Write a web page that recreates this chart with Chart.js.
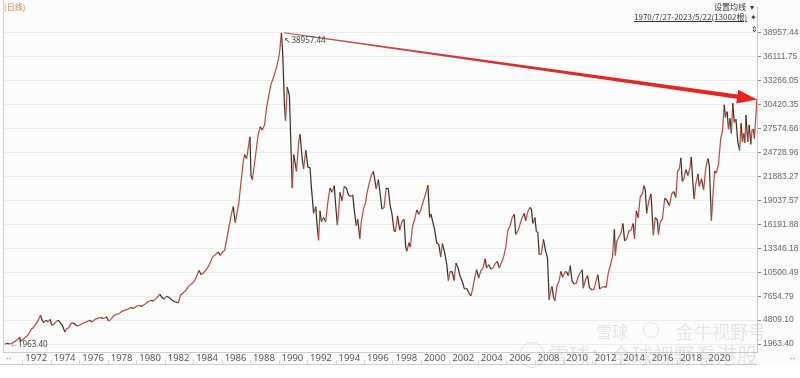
<!DOCTYPE html>
<html>
<head>
<meta charset="utf-8">
<script src="https://cdn.jsdelivr.net/npm/chart.js@4.4.0/dist/chart.umd.min.js"></script>
<style>
  html,body{margin:0;padding:0;background:#fcfcfc;}
  #wrap{position:relative;width:800px;height:378px;overflow:hidden;font-family:"Noto Sans","Noto Sans CJK SC",sans-serif;}
  canvas{position:absolute;left:0;top:0;}
  .ov{position:absolute;white-space:nowrap;}
  .wm{position:absolute;white-space:nowrap;color:rgba(150,150,150,0.22);font-family:"Noto Sans CJK SC",sans-serif;}
</style>
</head>
<body>
<div id="wrap">
  <canvas id="c" width="800" height="378"></canvas>
  <div class="ov" style="left:4px;top:1px;font-size:8px;color:#e8833a;font-family:'Noto Sans CJK SC';">(日线)</div>
  <div class="ov" style="left:714px;top:1px;font-size:8px;color:#333;font-family:'Noto Sans CJK SC';">设置均线</div>
  <div class="ov" style="left:750px;top:1px;font-size:8px;color:#333;">▾</div>
  <div class="ov" style="left:634px;top:11px;font-size:8px;color:#333;text-decoration:underline;font-family:'Noto Sans CJK SC';">1970/7/27-2023/5/22(13002根)</div>
  <div class="ov" style="left:750px;top:11px;font-size:8px;color:#333;">✦</div>
  <div class="ov" style="left:751px;top:23px;font-size:8px;color:#333;">⇕</div>
  <div class="ov" style="left:6px;top:352px;font-size:9px;color:#777;">··</div>
  <div class="ov" style="left:790px;top:352px;font-size:9px;color:#777;">··</div>
  <div style="position:absolute;left:519px;top:342px;width:24px;height:24px;border:1.5px solid rgba(150,150,150,0.28);border-radius:50%;"></div>
  <div class="wm" style="left:548px;top:339px;font-size:21px;">雪球：全球视野看港股</div>
  <div style="position:absolute;left:643px;top:322px;width:14px;height:14px;border:1.5px solid rgba(150,150,150,0.25);border-radius:50%;"></div>
  <div class="wm" style="left:596px;top:319px;font-size:16px;">雪球</div>
  <div class="wm" style="left:676px;top:318px;font-size:18px;">金牛视野号</div>
</div>
<script>
// ---- data (decimal year, index level) ----
const dates = [
1970.57,1970.70,1970.85,1971.00,1971.15,1971.30,1971.45,1971.60,1971.68,1971.80,1971.95,
1972.10,1972.25,1972.40,1972.55,1972.70,1972.85,1973.00,1973.08,1973.15,1973.30,1973.45,1973.60,1973.75,1973.85,
1974.00,1974.15,1974.30,1974.45,1974.60,1974.78,1974.90,1975.05,1975.20,1975.35,1975.50,1975.65,1975.80,1975.95,
1976.10,1976.30,1976.50,1976.70,1976.90,1977.10,1977.30,1977.50,1977.70,1977.85,1978.00,1978.20,1978.40,1978.60,1978.80,
1979.00,1979.20,1979.40,1979.60,1979.80,1980.00,1980.20,1980.40,1980.60,1980.80,1981.00,1981.20,1981.45,1981.60,1981.75,1981.90,
1982.10,1982.30,1982.50,1982.75,1982.90,1983.05,1983.25,1983.45,1983.65,1983.85,1984.00,1984.20,1984.35,1984.55,1984.75,1984.95,
1985.15,1985.35,1985.55,1985.70,1985.85,1986.00,1986.15,1986.30,1986.45,1986.60,1986.75,1986.90,1987.00,1987.15,1987.30,1987.40,
1987.55,1987.70,1987.78,1987.85,1987.95,1988.05,1988.20,1988.35,1988.50,1988.65,1988.80,1988.95,1989.10,1989.25,1989.40,1989.55,
1989.70,1989.85,1989.99,1990.08,1990.20,1990.28,1990.40,1990.55,1990.65,1990.75,1990.85,1990.95,1991.05,1991.20,1991.30,1991.45,
1991.55,1991.70,1991.85,1992.00,1992.10,1992.25,1992.40,1992.50,1992.60,1992.70,1992.80,1992.95,1993.10,1993.25,1993.40,1993.55,
1993.70,1993.80,1993.92,1994.00,1994.10,1994.25,1994.40,1994.55,1994.70,1994.85,1995.00,1995.10,1995.25,1995.35,1995.50,1995.60,
1995.75,1995.90,1996.00,1996.15,1996.30,1996.45,1996.55,1996.65,1996.80,1996.95,1997.05,1997.20,1997.35,1997.50,1997.62,1997.75,
1997.90,1998.00,1998.15,1998.30,1998.45,1998.60,1998.72,1998.80,1998.95,1999.05,1999.20,1999.35,1999.50,1999.65,1999.80,1999.95,
2000.10,2000.28,2000.40,2000.50,2000.62,2000.75,2000.90,2001.05,2001.18,2001.30,2001.45,2001.60,2001.72,2001.85,2002.00,2002.12,
2002.25,2002.40,2002.55,2002.70,2002.85,2003.00,2003.15,2003.30,2003.42,2003.55,2003.70,2003.85,2004.00,2004.15,2004.30,2004.40,
2004.55,2004.70,2004.85,2005.00,2005.15,2005.30,2005.45,2005.60,2005.75,2005.90,2006.05,2006.20,2006.35,2006.45,2006.60,2006.75,
2006.90,2007.05,2007.15,2007.30,2007.45,2007.55,2007.65,2007.80,2007.90,2008.00,2008.10,2008.25,2008.40,2008.55,2008.68,2008.80,
2008.92,2009.00,2009.10,2009.20,2009.35,2009.50,2009.62,2009.75,2009.90,2010.00,2010.15,2010.28,2010.40,2010.55,2010.70,2010.85,
2011.00,2011.12,2011.20,2011.35,2011.50,2011.62,2011.80,2011.95,2012.10,2012.22,2012.35,2012.50,2012.65,2012.80,2012.95,2013.10,
2013.25,2013.38,2013.45,2013.55,2013.70,2013.85,2013.98,2014.10,2014.25,2014.40,2014.55,2014.70,2014.80,2014.92,2015.05,2015.20,
2015.35,2015.45,2015.55,2015.65,2015.80,2015.95,2016.05,2016.12,2016.25,2016.40,2016.48,2016.60,2016.75,2016.92,2017.05,2017.25,
2017.40,2017.55,2017.70,2017.82,2017.95,2018.05,2018.15,2018.25,2018.40,2018.55,2018.70,2018.78,2018.88,2018.98,2019.10,2019.25,
2019.35,2019.50,2019.65,2019.80,2019.95,2020.05,2020.20,2020.30,2020.42,2020.55,2020.70,2020.85,2020.98,2021.10,2021.18,2021.30,
2021.40,2021.50,2021.60,2021.70,2021.80,2021.92,2022.05,2022.18,2022.28,2022.38,2022.48,2022.55,2022.62,2022.75,2022.85,2022.97,
2023.05,2023.15,2023.22,2023.30,2023.39
];
const closes = [
1963.40,2050,1990,2020,2150,2300,2500,2740,2300,2450,2700,
2900,3200,3700,3900,4300,4600,5200,5359,4900,4500,4800,4600,4900,4200,
4300,4600,4800,4500,4200,3400,3800,3900,4400,4500,4300,4100,4200,4350,
4500,4600,4800,4600,4900,5050,5100,5000,5200,4700,4900,5300,5500,5600,5850,
6000,6100,6300,6200,6450,6550,6450,6700,7000,7150,7100,7400,7900,7500,7300,7650,
7500,7200,7000,6850,7800,8000,8300,8800,9100,9350,9900,10700,10200,10500,10900,11500,
12300,12600,12900,12500,12900,13100,14500,15800,17200,18300,16400,17800,18800,21200,23500,24500,
24000,25800,26600,22000,21500,22800,24800,26800,27800,27400,28000,30100,31500,32800,33500,34300,
35200,36500,38957.44,36500,30500,28500,32500,31500,26000,20500,24500,23500,22500,26000,26900,24000,
22800,25000,23000,22900,20500,17500,18300,16000,14300,17800,16500,17000,16500,18800,20500,20000,
20800,18500,16100,17500,20000,19000,20700,20500,19700,19500,19700,18000,16000,16800,14500,16500,
18000,18800,19900,21000,22000,22500,21500,20400,21500,19500,18000,18200,20500,20400,18500,17500,
15500,15300,17200,15500,16500,16800,13500,13000,14000,13500,16000,16800,17900,17400,18000,18900,
19700,20833,17000,17400,16500,15600,14000,13800,12300,13900,12900,11500,9500,10600,10500,9500,
11600,11000,10000,9400,8500,8600,8100,7700,8500,9700,10800,9800,10700,11000,12100,11000,
11400,10900,11000,11500,11800,11000,11700,12300,13500,15500,16000,17000,17400,15000,15400,16200,
17000,17500,16600,17700,18200,18000,16300,17000,15300,15300,12600,12700,14400,13000,12200,7200,
8400,8800,7600,7100,8900,9500,10600,9900,10500,10600,10100,11300,9500,9100,9200,10000,
10500,10800,8600,9600,10100,8700,8400,8500,9500,10200,8500,8700,8800,8700,10400,11300,
12400,15600,12500,14200,14700,15200,16300,14200,14500,15400,15500,16300,14500,17800,17000,19500,
19800,20800,20300,17500,19000,19800,17000,14900,17000,16700,15000,16500,16800,19300,19100,18400,
19800,20100,19400,22500,22800,24100,21300,21500,22700,22000,23000,24200,21500,19200,21000,22200,
20700,21600,20300,22900,24000,23200,16600,19500,22500,22300,23400,26400,27400,30400,28900,29600,
27500,28800,27000,30600,28300,28700,26000,25000,28200,26000,27000,25900,29200,26000,28000,25700,
27400,27500,26400,28600,31086
];
const xTickYears = [1972,1974,1976,1978,1980,1982,1984,1986,1988,1990,1992,1994,1996,1998,2000,2002,2004,2006,2008,2010,2012,2014,2016,2018,2020];
const yTickValues = [1963.40,4809.10,7654.79,10500.49,13346.18,16191.88,19037.57,21883.27,24728.96,27574.66,30420.35,33266.05,36111.75,38957.44];
// annotation arrow: from the 1989 peak to the latest level
const arrowFrom = [1990.16, 38957.44];
const arrowTo = [2023.40, 31040];

const points = dates.map((d, i) => ({x: d, y: closes[i]}));
const UP = '#c0463a', DOWN = '#2f3222';

const decor = {
  id: 'decor',
  beforeDraw(chart) {
    const {ctx, chartArea: a} = chart;
    ctx.save();
    ctx.fillStyle = '#ffffff';
    ctx.fillRect(0, a.bottom + 12, chart.width, chart.height - a.bottom - 12);
    ctx.restore();
  },
  afterDraw(chart) {
    const {ctx, chartArea: a, scales: {x, y}} = chart;
    ctx.save();
    ctx.strokeStyle = '#cfcfcf';
    ctx.lineWidth = 1;
    ctx.beginPath();
    ctx.moveTo(a.left + 0.5, 0); ctx.lineTo(a.left + 0.5, a.bottom);
    ctx.moveTo(0, a.bottom + 12.5); ctx.lineTo(a.right, a.bottom + 12.5);
    ctx.stroke();
    ctx.strokeStyle = '#d5d5d5';
    ctx.beginPath();
    xTickYears.forEach(v => {
      const px = Math.round(x.getPixelForValue(v)) - 2.5;
      ctx.moveTo(px, a.bottom + 8); ctx.lineTo(px, a.bottom + 12);
    });
    ctx.stroke();
    // arrow
    const x0 = x.getPixelForValue(arrowFrom[0]), y0 = y.getPixelForValue(arrowFrom[1]);
    const x1 = x.getPixelForValue(arrowTo[0]), y1 = y.getPixelForValue(arrowTo[1]);
    const dx = x1 - x0, dy = y1 - y0, L = Math.hypot(dx, dy);
    const ux = dx / L, uy = dy / L, nx = -uy, ny = ux;
    const headL = 20, headW = 7;
    const bx = x1 - ux * headL, by = y1 - uy * headL;
    const w0 = 0.5, w1 = 2.2;
    const grad = ctx.createLinearGradient(x0, y0, x1, y1);
    grad.addColorStop(0, '#b8555a');
    grad.addColorStop(0.5, '#d8302a');
    grad.addColorStop(1, '#e8231b');
    ctx.fillStyle = grad;
    ctx.beginPath();
    ctx.moveTo(x0 + nx * w0, y0 + ny * w0);
    ctx.lineTo(bx + nx * w1, by + ny * w1);
    ctx.lineTo(bx + nx * headW, by + ny * headW);
    ctx.lineTo(x1, y1);
    ctx.lineTo(bx - nx * headW, by - ny * headW);
    ctx.lineTo(bx - nx * w1, by - ny * w1);
    ctx.lineTo(x0 - nx * w0, y0 - ny * w0);
    ctx.closePath();
    ctx.fill();
    // max / min labels
    let iMax = 0, iMin = 0;
    closes.forEach((v, i) => { if (v > closes[iMax]) iMax = i; if (v < closes[iMin]) iMin = i; });
    ctx.fillStyle = '#444';
    ctx.font = '8px "Noto Sans", sans-serif';
    ctx.textBaseline = 'middle';
    ctx.textAlign = 'left';
    const pmx = x.getPixelForValue(dates[iMax]), pmy = y.getPixelForValue(closes[iMax]);
    ctx.fillText('↖' + closes[iMax].toFixed(2), pmx + 3, pmy + 8);
    const pnx = x.getPixelForValue(dates[iMin]), pny = y.getPixelForValue(closes[iMin]);
    ctx.fillText('←' + closes[iMin].toFixed(2), pnx + 5, pny + 1);
    ctx.restore();
  }
};

new Chart(document.getElementById('c'), {
  type: 'line',
  data: {
    datasets: [{
      data: points,
      borderWidth: 1.2,
      borderColor: DOWN,
      pointRadius: 0,
      tension: 0,
      segment: {
        borderColor: c => (c.p1.parsed.y >= c.p0.parsed.y ? UP : DOWN)
      }
    }]
  },
  options: {
    responsive: false,
    animation: false,
    devicePixelRatio: 1,
    layout: {padding: {left: 3, top: 4, right: 0, bottom: 12}},
    plugins: {legend: {display: false}, tooltip: {enabled: false}},
    scales: {
      x: {
        type: 'linear',
        position: 'bottom',
        min: 1970.43,
        max: 2023.40,
        afterBuildTicks: s => { s.ticks = xTickYears.map(v => ({value: v})); },
        afterFit: s => { s.height = 14; },
        grid: {display: false, drawTicks: false},
        border: {display: true, color: '#cfcfcf'},
        ticks: {
          align: 'start',
          padding: 1,
          color: '#555',
          font: {size: 9.5, family: '"Noto Sans", sans-serif'},
          maxRotation: 0,
          autoSkip: false,
          callback: v => String(v)
        }
      },
      y: {
        position: 'right',
        min: 1021,
        max: 42020,
        afterBuildTicks: s => { s.ticks = yTickValues.map(v => ({value: v})); },
        afterFit: s => { s.width = 43; },
        grid: {color: '#ececec', drawTicks: true, tickLength: 4, tickColor: '#888'},
        border: {display: true, color: '#c8c8c8'},
        ticks: {
          padding: 2,
          color: '#666',
          font: {size: 8.5, family: '"Liberation Sans", sans-serif'},
          autoSkip: false,
          callback: v => Number(v).toFixed(2)
        }
      }
    }
  },
  plugins: [decor]
});
</script>
</body>
</html>
